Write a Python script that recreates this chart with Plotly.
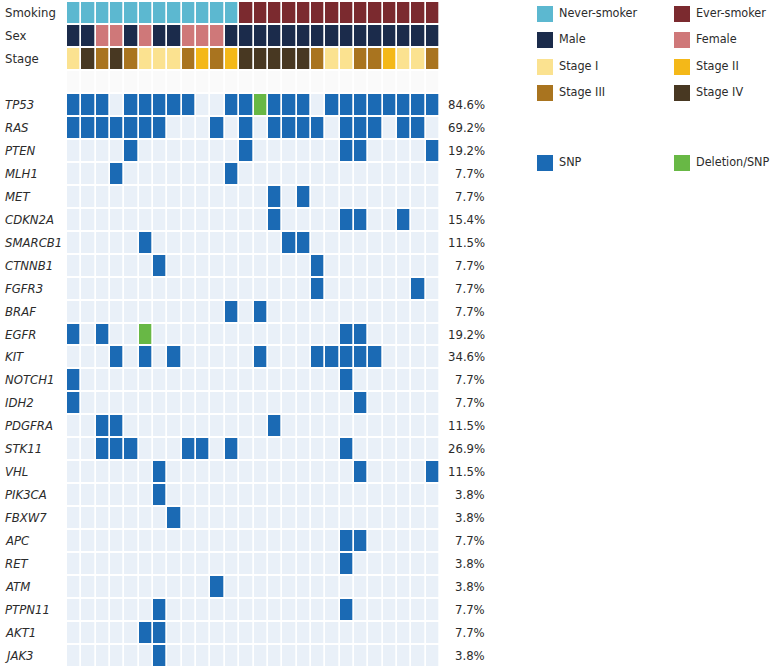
import plotly.graph_objects as go

n_samples = 26
smoking = ["Never-smoker"] * 12 + ["Ever-smoker"] * 14
sex = ["Male", "Male", "Female", "Female", "Male", "Female", "Male", "Male", "Female", "Female", "Female", "Male"] + ["Male"] * 14
stage = ["Stage I", "Stage IV", "Stage III", "Stage IV", "Stage III", "Stage I", "Stage I", "Stage I",
         "Stage III", "Stage II", "Stage III", "Stage II", "Stage IV", "Stage IV", "Stage IV", "Stage IV",
         "Stage IV", "Stage III", "Stage I", "Stage I", "Stage III", "Stage III", "Stage II", "Stage I",
         "Stage I", "Stage III"]

genes = ["TP53", "RAS", "PTEN", "MLH1", "MET", "CDKN2A", "SMARCB1", "CTNNB1", "FGFR3", "BRAF", "EGFR",
         "KIT", "NOTCH1", "IDH2", "PDGFRA", "STK11", "VHL", "PIK3CA", "FBXW7", "APC", "RET", "ATM",
         "PTPN11", "AKT1", "JAK3"]

# sample numbers (1-based) carrying an SNP / a deletion+SNP
snp = {
    "TP53": [1, 2, 3, 5, 6, 7, 8, 9, 12, 13, 15, 16, 17, 19, 20, 21, 22, 23, 24, 25, 26],
    "RAS": [1, 2, 3, 4, 5, 6, 7, 11, 13, 15, 16, 17, 18, 20, 21, 22, 24, 25],
    "PTEN": [5, 13, 20, 21, 26],
    "MLH1": [4, 12],
    "MET": [15, 17],
    "CDKN2A": [15, 20, 21, 24],
    "SMARCB1": [6, 16, 17],
    "CTNNB1": [7, 18],
    "FGFR3": [18, 25],
    "BRAF": [12, 14],
    "EGFR": [1, 3, 20, 21],
    "KIT": [4, 6, 8, 14, 18, 19, 20, 21, 22],
    "NOTCH1": [1, 20],
    "IDH2": [1, 21],
    "PDGFRA": [3, 4, 15],
    "STK11": [3, 4, 5, 9, 10, 12, 20],
    "VHL": [7, 21, 26],
    "PIK3CA": [7],
    "FBXW7": [8],
    "APC": [20, 21],
    "RET": [20],
    "ATM": [11],
    "PTPN11": [7, 20],
    "AKT1": [6, 7],
    "JAK3": [7],
}
deletion_snp = {"TP53": [14], "EGFR": [6]}

legend_items = [["Never-smoker", "Ever-smoker"], ["Male", "Female"], ["Stage I", "Stage II"],
                ["Stage III", "Stage IV"], ["SNP", "Deletion/SNP"]]

colors = {
    "none": "#e9f0f8",
    "SNP": "#1b6ab4",
    "Deletion/SNP": "#68b845",
    "Never-smoker": "#5cb8d0",
    "Ever-smoker": "#7b2a2f",
    "Male": "#1b2b4b",
    "Female": "#cf7879",
    "Stage I": "#fbe290",
    "Stage II": "#f4b818",
    "Stage III": "#a9741f",
    "Stage IV": "#483822",
    "spacer": "#fafafa",
}
codes = list(colors.keys())
code_of = {k: i for i, k in enumerate(codes)}
nc = len(codes)
colorscale = []
for i, k in enumerate(codes):
    colorscale.append([i / nc, colors[k]])
    colorscale.append([(i + 1) / nc, colors[k]])

row_labels = ["Smoking", "Sex", "Stage", ""] + genes
z = [[code_of[v] + 0.5 for v in smoking],
     [code_of[v] + 0.5 for v in sex],
     [code_of[v] + 0.5 for v in stage],
     [code_of["spacer"] + 0.5] * n_samples]
pcts = []
for g in genes:
    row = []
    for s in range(1, n_samples + 1):
        if s in deletion_snp.get(g, []):
            row.append(code_of["Deletion/SNP"] + 0.5)
        elif s in snp.get(g, []):
            row.append(code_of["SNP"] + 0.5)
        else:
            row.append(code_of["none"] + 0.5)
    z.append(row)
    cnt = len(snp.get(g, [])) + len(deletion_snp.get(g, []))
    pcts.append(f"{100 * cnt / n_samples:.1f}%")

W, H = 774, 667
x0, x1 = 67, 440
FONT = "DejaVu Sans Condensed, Liberation Sans Narrow, Roboto, Arial, sans-serif"
FS = 13
TXT = "#2b2b2b"

fig = go.Figure()
fig.add_trace(go.Heatmap(
    z=z, x=list(range(n_samples)), y=list(range(len(row_labels))),
    colorscale=colorscale, zmin=0, zmax=nc, showscale=False,
    xgap=1.7, ygap=2, hoverinfo="skip",
))

annotations = []
for i, lab in enumerate(row_labels):
    if not lab:
        continue
    text = lab if i < 3 else f"<i>{lab}</i>"
    annotations.append(dict(x=3 / W, xref="paper", y=i, yref="y", text=text, showarrow=False,
                            xanchor="left", yanchor="middle", font=dict(size=FS, color=TXT, family=FONT)))
for j, p in enumerate(pcts):
    annotations.append(dict(x=487 / W, xref="paper", y=j + 4, yref="y", text=p, showarrow=False,
                            xanchor="right", yanchor="middle", font=dict(size=FS, color=TXT, family=FONT)))

# legend drawn on a pixel-space overlay axis
lx = [545, 682]
ly = [14, 40, 67, 93, 163]
mx, my, mc, tx, ty, tt = [], [], [], [], [], []
for r, pair in enumerate(legend_items):
    for c, name in enumerate(pair):
        mx.append(lx[c]); my.append(ly[r]); mc.append(colors[name])
        tx.append(lx[c] + 14); ty.append(ly[r]); tt.append(name)
fig.add_trace(go.Scatter(x=mx, y=my, mode="markers", xaxis="x2", yaxis="y2",
                         marker=dict(symbol="square", size=16, color=mc, line=dict(width=0)),
                         hoverinfo="skip", showlegend=False))
fig.add_trace(go.Scatter(x=tx, y=ty, mode="text", text=tt, textposition="middle right", xaxis="x2", yaxis="y2",
                         textfont=dict(size=12.5, color=TXT, family=FONT), hoverinfo="skip", showlegend=False))

fig.update_layout(
    width=W, height=H, margin=dict(l=0, r=0, t=0, b=0, pad=0),
    paper_bgcolor="white", plot_bgcolor="rgba(0,0,0,0)", showlegend=False,
    xaxis=dict(domain=[x0 / W, x1 / W], range=[-0.5, n_samples - 0.5], visible=False, fixedrange=True),
    yaxis=dict(domain=[0, 1 - 1 / H], range=[len(row_labels) - 0.5, -0.5], visible=False, fixedrange=True),
    xaxis2=dict(domain=[0, 1], range=[0, W], visible=False, anchor="y2", fixedrange=True),
    yaxis2=dict(domain=[0, 1], range=[H, 0], visible=False, anchor="x2", fixedrange=True),
    annotations=annotations,
    font=dict(family=FONT),
)
fig.write_html("out.html", config={"displayModeBar": False, "staticPlot": True},
               post_script="document.body.style.margin='0px';document.body.style.padding='0px';")
